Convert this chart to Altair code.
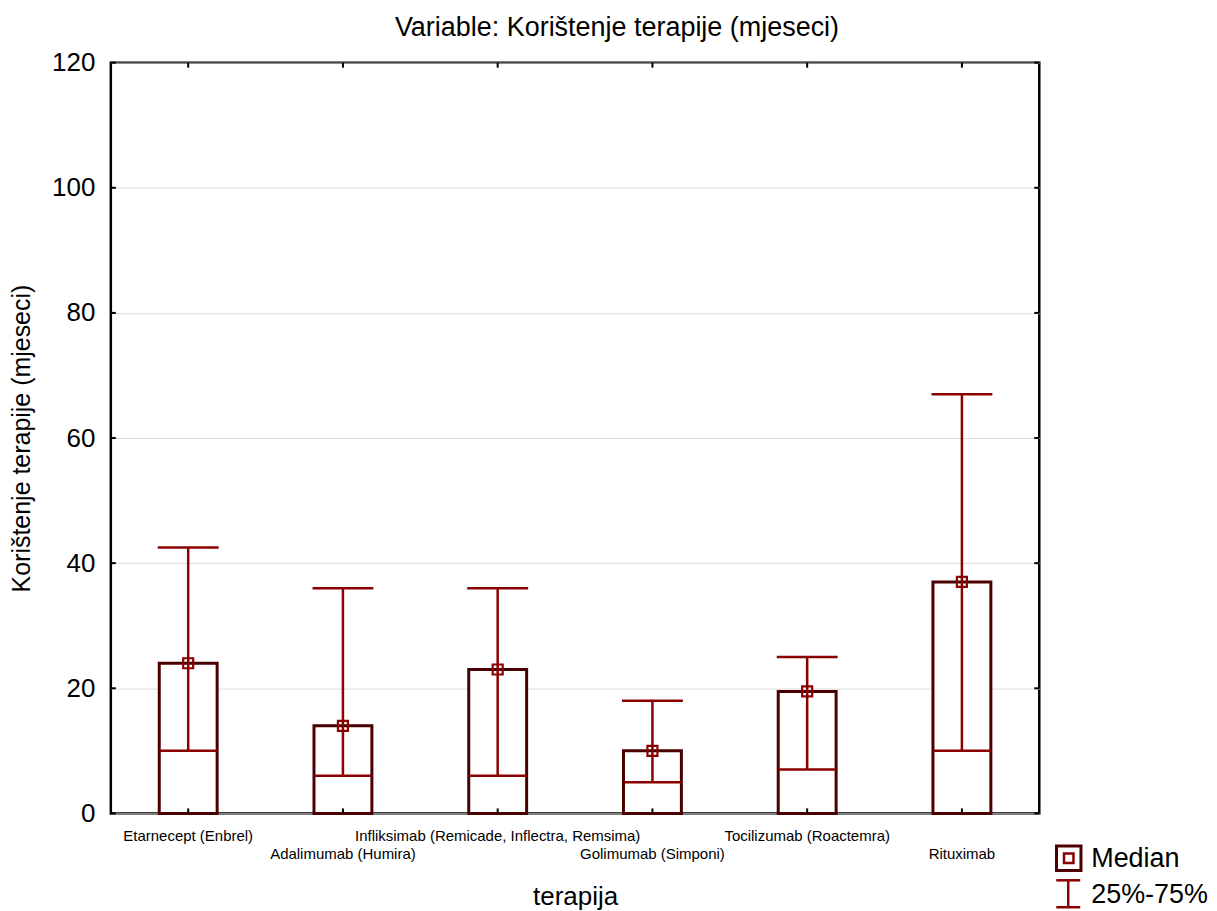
import json
import altair as alt
import pandas as pd

categories = [
    "Etarnecept (Enbrel)",
    "Adalimumab (Humira)",
    "Infliksimab (Remicade, Inflectra, Remsima)",
    "Golimumab (Simponi)",
    "Tocilizumab (Roactemra)",
    "Rituximab",
]
medians = [24, 14, 23, 10, 19.5, 37]
q25 = [10, 6, 6, 5, 7, 10]
q75 = [42.5, 36, 36, 18, 25, 67]
y_ticks = [0, 20, 40, 60, 80, 100, 120]
legend_labels = ["Median", "25%-75%"]

W, H = 930, 752
FONT = "Liberation Sans"
BOX = "#4a0000"
RED = "#8b0000"

df = pd.DataFrame({"cat": categories, "median": medians, "q25": q25, "q75": q75})
df["zero"] = 0
tick_df = pd.DataFrame({"v": y_ticks})

label_expr = (
    f"indexof({json.dumps(categories)}, datum.label) % 2 == 1 "
    "? ['', datum.label] : datum.label"
)

x_axis = alt.Axis(
    title="terapija", labelExpr=label_expr, labelAngle=0, ticks=False, domain=False,
    labelFontSize=15, labelFont=FONT, labelColor="black", labelPadding=15,
    labelLineHeight=18, labelLimit=0, titleFontSize=26, titleFont=FONT,
    titleFontWeight="normal", titleColor="black", titleY=83, titleBaseline="middle",
)
y_axis = alt.Axis(
    title="Korištenje terapije (mjeseci)", values=y_ticks, ticks=False, domain=False,
    labelFontSize=26, labelFont=FONT, labelColor="black", labelPadding=16,
    grid=True, gridColor="#d9d9d9", gridWidth=1,
    titleFontSize=25, titleFont=FONT, titleFontWeight="normal", titleColor="black",
    titleX=-89, titleY=H / 2, titleAngle=-90, titleBaseline="middle", titleAlign="center",
)
x_scale = alt.Scale(domain=categories, paddingInner=0, paddingOuter=0)
y_scale = alt.Scale(domain=[0, 120], nice=False, zero=True)


def X(field="cat"):
    return alt.X(f"{field}:N", sort=categories, scale=x_scale, axis=x_axis)


def Y(field):
    return alt.Y(f"{field}:Q", scale=y_scale, axis=y_axis)


base = alt.Chart(df)

box = base.mark_bar(size=58, fill="white", stroke=BOX, strokeWidth=3).encode(
    x=X(), y=Y("zero"), y2="median"
)
whisker = base.mark_rule(color=RED, strokeWidth=2.5).encode(x=X(), y=Y("q25"), y2="q75")
low_line = base.mark_tick(size=58, thickness=2.5, color=RED, opacity=1).encode(x=X(), y=Y("q25"))
cap = base.mark_tick(size=61, thickness=2.5, color=RED, opacity=1).encode(x=X(), y=Y("q75"))
med = base.mark_point(shape="square", size=100, filled=False, stroke=RED, strokeWidth=2.2, opacity=1).encode(
    x=X(), y=Y("median")
)

tchart = alt.Chart(tick_df)
ytick_l = tchart.mark_rule(color="black", strokeWidth=2).encode(y=Y("v"), x=alt.value(0), x2=alt.value(5))
ytick_r = tchart.mark_rule(color="black", strokeWidth=2).encode(y=Y("v"), x=alt.value(W - 5), x2=alt.value(W))
xtick_b = base.mark_rule(color="black", strokeWidth=2).encode(x=X(), y=alt.value(H - 5), y2=alt.value(H))
xtick_t = base.mark_rule(color="black", strokeWidth=2).encode(x=X(), y=alt.value(0), y2=alt.value(5))

# legend
one = pd.DataFrame({"k": [0]})
leg_c = alt.Chart(one)
lg_outer = leg_c.mark_point(shape="square", size=600, filled=False, stroke=BOX, strokeWidth=3, opacity=1).encode(
    x=alt.value(959.5), y=alt.value(797)
)
lg_inner = leg_c.mark_point(shape="square", size=90, filled=False, stroke=RED, strokeWidth=2.5, opacity=1).encode(
    x=alt.value(959.5), y=alt.value(797)
)
lg_v = leg_c.mark_rule(color=RED, strokeWidth=2.5).encode(x=alt.value(959), y=alt.value(819), y2=alt.value(846))
lg_t = leg_c.mark_rule(color=RED, strokeWidth=2.5).encode(x=alt.value(947), x2=alt.value(971), y=alt.value(819))
lg_b = leg_c.mark_rule(color=RED, strokeWidth=2.5).encode(x=alt.value(947), x2=alt.value(971), y=alt.value(846))
lg_txt1 = alt.Chart(pd.DataFrame({"label": [legend_labels[0]]})).mark_text(
    align="left", baseline="middle", fontSize=27, font=FONT, color="black"
).encode(x=alt.value(982), y=alt.value(798), text="label:N")
lg_txt2 = alt.Chart(pd.DataFrame({"label": [legend_labels[1]]})).mark_text(
    align="left", baseline="middle", fontSize=27, font=FONT, color="black"
).encode(x=alt.value(982), y=alt.value(834), text="label:N")

chart = alt.layer(
    box, whisker, low_line, cap, med, ytick_l, ytick_r, xtick_b, xtick_t,
    lg_outer, lg_inner, lg_v, lg_t, lg_b, lg_txt1, lg_txt2,
).properties(
    width=W, height=H,
    title=alt.TitleParams(
        "Variable: Korištenje terapije (mjeseci)", fontSize=27, font=FONT,
        fontWeight="normal", color="black", anchor="middle", dx=42, offset=8,
    ),
    padding={"left": 2, "top": 5, "right": 0, "bottom": 0},
    background="white",
).configure_view(stroke="black", strokeWidth=2.5)

chart.save("out.html", embed_options={"renderer": "svg", "actions": False})
